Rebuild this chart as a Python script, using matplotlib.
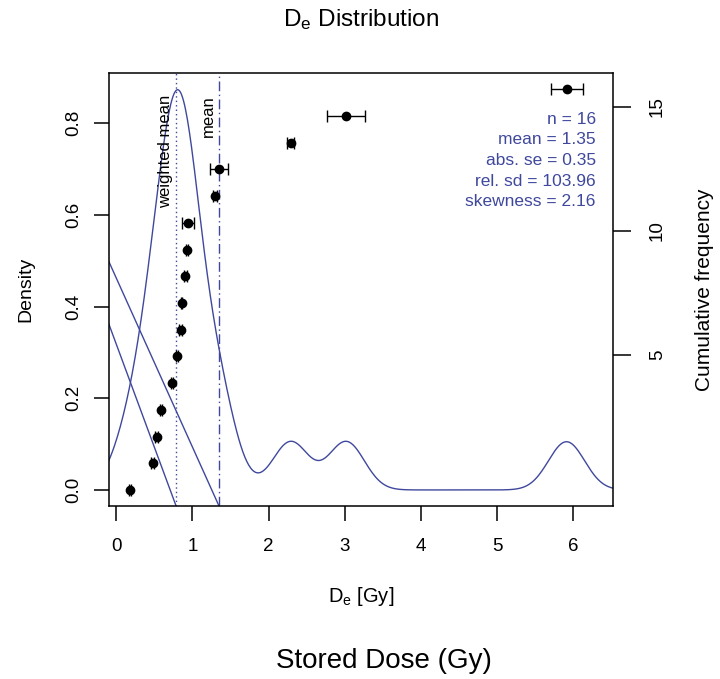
import numpy as np
import matplotlib
matplotlib.use("Agg")
import matplotlib.pyplot as plt

plt.rcParams['font.family'] = ['Liberation Sans', 'DejaVu Sans']
plt.rcParams['mathtext.fontset'] = 'custom'
plt.rcParams['mathtext.rm'] = 'Liberation Sans'
plt.rcParams['mathtext.it'] = 'Liberation Sans'

# ---- data ----
de_values = [0.18, 0.48, 0.53, 0.59, 0.73, 0.80, 0.85, 0.86, 0.91, 0.93,
             0.945, 1.30, 1.35, 2.29, 3.02, 5.91]
de_errors = [0.01, 0.02, 0.02, 0.01, 0.01, 0.01, 0.02, 0.01, 0.02, 0.01,
             0.08, 0.03, 0.12, 0.05, 0.25, 0.21]
cum_freq = list(range(1, len(de_values) + 1))
kde_bandwidth = 0.237
mean_value = 1.35
weighted_mean_value = 0.787
stats_lines = ["n = 16", "mean = 1.35", "abs. se = 0.35",
               "rel. sd = 103.96", "skewness = 2.16"]
# artefact diagonal segments: (x0, y0) -> (x1, y1) in density units
diag_x = [[-0.10, 1.35], [-0.10, 0.787]]
diag_y = [[0.50, -0.035], [0.364, -0.035]]
x_ticks = [0, 1, 2, 3, 4, 5, 6]
y_ticks = [0.0, 0.2, 0.4, 0.6, 0.8]
cum_ticks = [5, 10, 15]

blue = '#3F489D'

fig = plt.figure(figsize=(7.2, 6.79), dpi=100)
ax = fig.add_axes([0.1507, 0.2548, 0.7007, 0.6372])

xlim = (-0.10, 6.52)
ylim = (-0.035, 0.909)

# KDE
xs = np.linspace(xlim[0], xlim[1], 512)
d = np.array(de_values)
dens = np.exp(-0.5 * ((xs[:, None] - d[None, :]) / kde_bandwidth) ** 2).sum(axis=1)
dens /= (len(d) * kde_bandwidth * np.sqrt(2 * np.pi))
ax.plot(xs, dens, color=blue, lw=1.0)

# mean lines
ax.axvline(weighted_mean_value, color=blue, lw=1.0, ls=(0, (1, 2.2)))
ax.axvline(mean_value, color=blue, lw=1.0, ls=(0, (7, 2.5, 1, 2.5)))
for xx, yy in zip(diag_x, diag_y):
    ax.plot(xx, yy, color=blue, lw=1.0)

ax.text(weighted_mean_value - 0.04, 0.862, "weighted mean", rotation=90,
        ha='right', va='top', fontsize=12, color='black')
ax.text(mean_value - 0.04, 0.862, "mean", rotation=90,
        ha='right', va='top', fontsize=12, color='black')

for i, s in enumerate(stats_lines):
    ax.text(0.966, 0.894 - i * 0.0478, s, transform=ax.transAxes,
            ha='right', va='center', fontsize=12.5, color=blue)

ax.set_xlim(*xlim)
ax.set_ylim(*ylim)
ax.set_xticks(x_ticks)
ax.set_xticklabels([str(t) for t in x_ticks])
ax.set_yticks(y_ticks)
ax.set_yticklabels([f"{t:.1f}" for t in y_ticks], rotation=90, va='center')
ax.tick_params(axis='both', direction='out', length=11, width=1.1,
               labelsize=13.5, pad=12)
ax.tick_params(axis='y', pad=8)
for sp in ax.spines.values():
    sp.set_linewidth(1.1)
ax.set_ylabel("Density", fontsize=14, labelpad=22)
ax.set_xlabel(r"D$_\mathrm{e}$ [Gy]", fontsize=14.5, labelpad=22)
ax.set_title(r"D$_\mathrm{e}$ Distribution", fontsize=17.5, pad=34)

# cumulative points
ax2 = ax.twinx()
ax2.errorbar(de_values, cum_freq, xerr=de_errors, fmt='o', color='black',
             markersize=6, capsize=4.5, elinewidth=1.0, capthick=1.0)
ax2.set_ylim(0.4, 16.6)
ax2.set_yticks([])
for sp in ax2.spines.values():
    sp.set_visible(False)

# cumulative frequency axis
ax3 = ax.twinx()
ax3.set_ylim(-1.08, 16.35)
ax3.set_yticks(cum_ticks)
ax3.set_yticklabels([str(t) for t in cum_ticks], rotation=90, va='center')
ax3.tick_params(axis='y', direction='out', length=13, width=1.1,
                labelsize=13.5, pad=13)
for sp in ax3.spines.values():
    sp.set_visible(False)
ax3.set_ylabel("Cumulative frequency", fontsize=15, labelpad=21)

fig.text(384 / 720, 1 - 661 / 679, "Stored Dose (Gy)", ha='center',
         va='center', fontsize=20)

fig.savefig("out.png", dpi=100)
